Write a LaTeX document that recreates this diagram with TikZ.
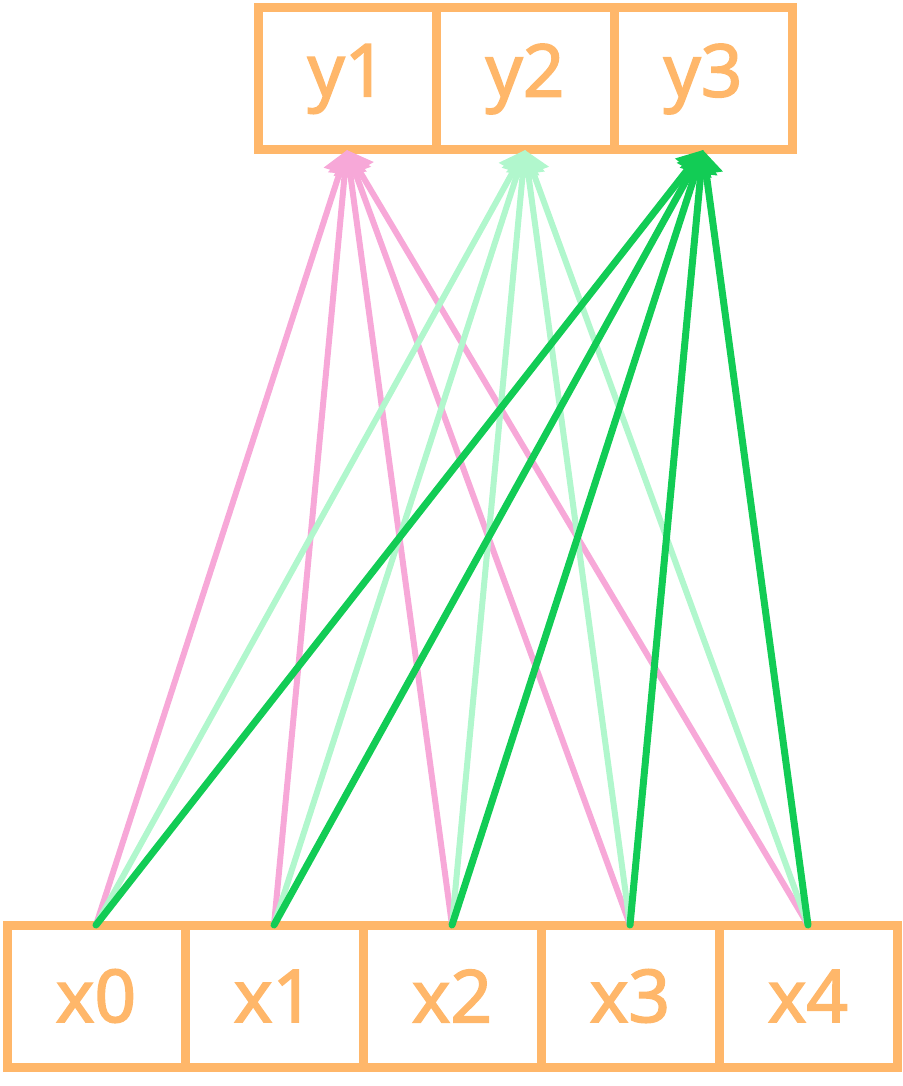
\documentclass[tikz,border=0pt]{standalone}
\usepackage{fontspec}
\setmainfont{Noto Sans}
\newfontfamily\labelfont{Noto Sans}[FakeBold=2]
\usetikzlibrary{arrows.meta}
\definecolor{boxorange}{HTML}{FFB76A}
\definecolor{edgepink}{HTML}{F7A8D8}
\definecolor{edgemint}{HTML}{B1F7CD}
\definecolor{edgegreen}{HTML}{12CC55}
\tikzset{
  cell/.style={draw=boxorange, line width=9pt, minimum width=178pt, minimum height=142pt,
    inner sep=0pt, outer sep=0pt, text=boxorange, font=\labelfont\fontsize{73}{80}\selectfont},
  edgebase/.style={line cap=round, -{Triangle[length=24pt,width=32pt]}},
  pinkedge/.style={edgebase, draw=edgepink, fill=edgepink, line width=6pt},
  mintedge/.style={edgebase, draw=edgemint, fill=edgemint, line width=6pt},
  greenedge/.style={edgebase, draw=edgegreen, fill=edgegreen, line width=7pt},
}
\begin{document}
\begin{tikzpicture}[x=1pt,y=-1pt]
\useasboundingbox (0,0) rectangle (902,1086);
\foreach \i/\x in {1/347,2/525,3/703}{
  \node[cell] (y\i) at (\x,79) {y\i};
}
\foreach \i/\x in {0/96,1/274,2/452,3/630,4/808}{
  \node[cell] (x\i) at (\x,996) {x\i};
}
\foreach \i in {0,...,4}{
  \draw[pinkedge] (x\i.north) -- (y1.south);
}
\foreach \i in {0,...,4}{
  \draw[mintedge] (x\i.north) -- (y2.south);
}
\foreach \i in {0,...,4}{
  \draw[greenedge] (x\i.north) -- (y3.south);
}
\end{tikzpicture}
\end{document}
